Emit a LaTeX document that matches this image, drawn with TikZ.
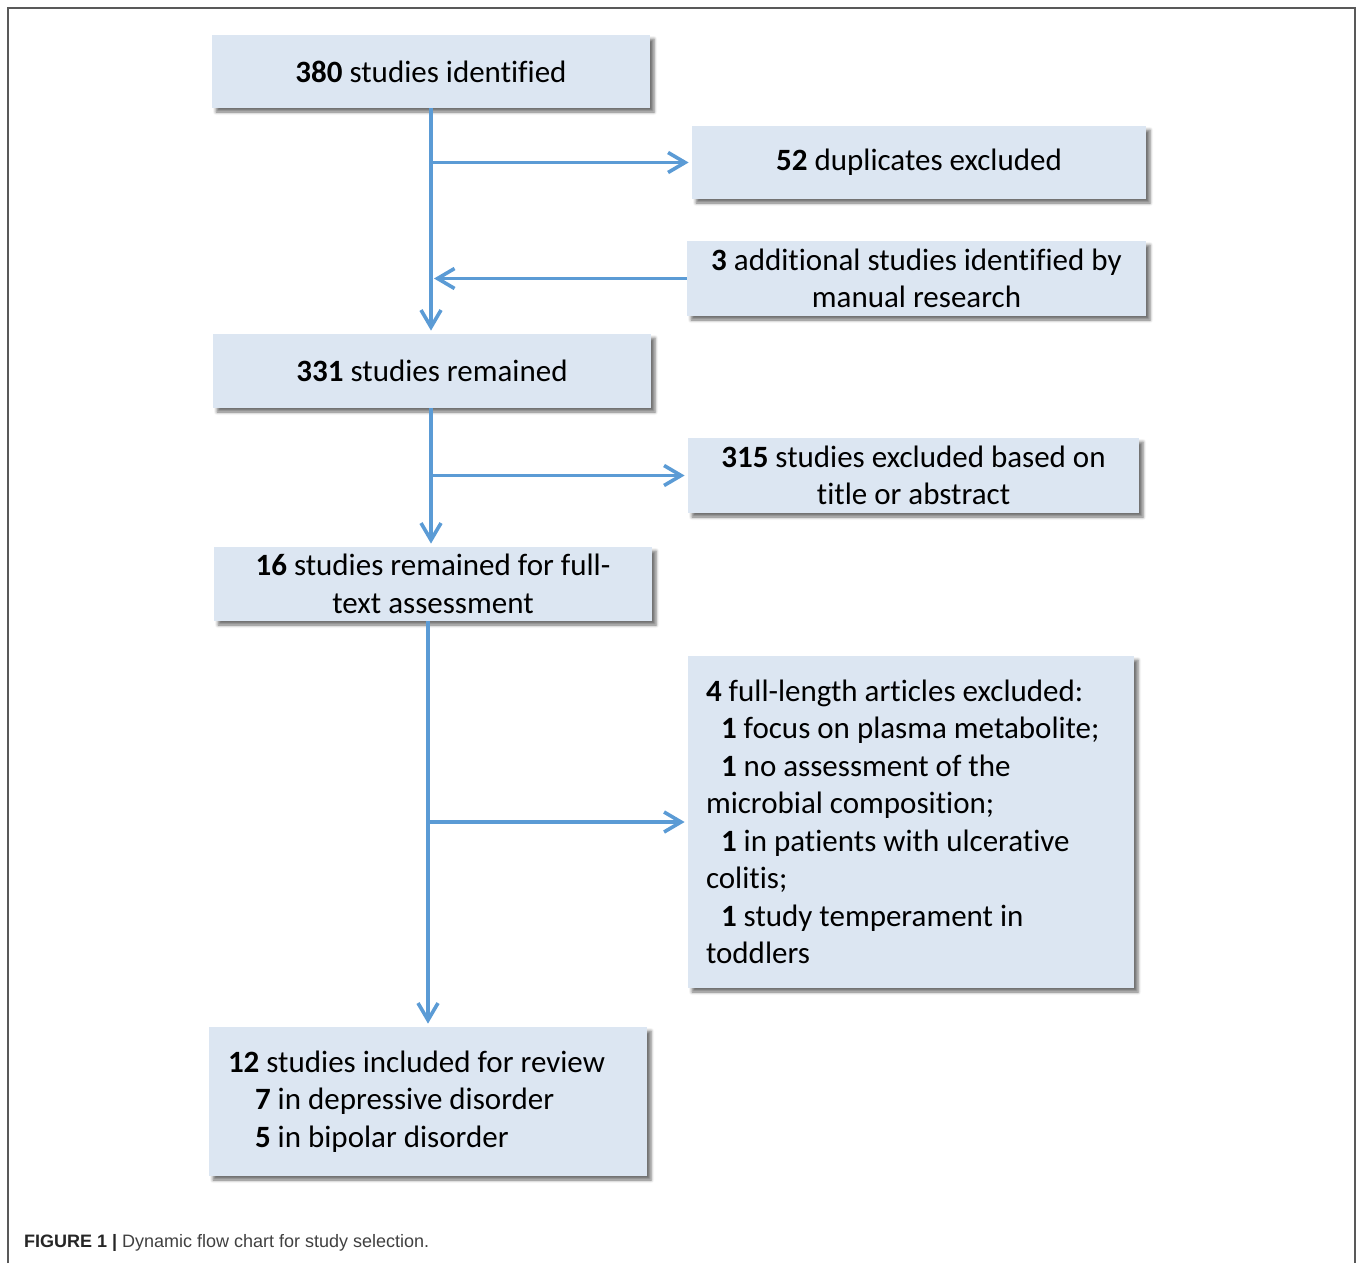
\documentclass[tikz,border=0pt]{standalone}
\usepackage{fontspec}
\setmainfont{Carlito}[Ligatures=NoCommon]
\newfontfamily\capfont{Liberation Sans}
\usetikzlibrary{arrows.meta,shadows.blur}
\definecolor{boxblue}{HTML}{DCE6F2}
\definecolor{arrowblue}{HTML}{5B9BD5}
\tikzset{
  box/.style={fill=boxblue,minimum height=36.5pt,inner sep=9pt,
    font=\fontsize{15.5pt}{18.75pt}\selectfont,
    blur shadow={shadow xshift=2pt,shadow yshift=-2pt,shadow blur radius=1.5pt,shadow opacity=55}},
  twoline/.style={align=center,inner ysep=1pt,minimum height=37.5pt},
  flow/.style={draw=arrowblue,line width=1.8pt,-{Straight Barb[length=8.5pt,width=10pt]},shorten >=1.5pt}
}
\begin{document}
\begin{tikzpicture}[x=0.5pt,y=-0.5pt]
\useasboundingbox (0,0) rectangle (1358,1263);
\draw[gray!70!black,line width=0.8pt] (8,1263) -- (8,8) -- (1355,8) -- (1355,1263);

\node[box,minimum width=219pt](ident) at (431,71.5) {\textbf{380} studies identified};
\node[box,minimum width=227pt](dup) at (919,162.5) {\textbf{52} duplicates excluded};
\node[box,twoline,minimum width=229.5pt](add) at (916.5,278.5) {\textbf{3} additional studies identified by\\manual research};
\node[box,minimum width=219pt,minimum height=37pt](remained) at (432,371) {\textbf{331} studies remained};
\node[box,twoline,minimum width=225.5pt](title) at (913.5,475.5) {\textbf{315} studies excluded based on\\title or abstract};
\node[box,twoline,minimum width=219pt,minimum height=37pt](full) at (433,584) {\textbf{16} studies remained for full-\\text assessment};
\node[box,text width=205pt,minimum height=166pt,align=flush left](four) at (911,822) {\textbf{4} full-length articles excluded:\\
\hspace*{7.5pt}\textbf{1} focus on plasma metabolite;\\
\hspace*{7.5pt}\textbf{1} no assessment of the\\
microbial composition;\\
\hspace*{7.5pt}\textbf{1} in patients with ulcerative\\
colitis;\\
\hspace*{7.5pt}\textbf{1} study temperament in\\
toddlers};
\node[box,inner xsep=9.5pt,text width=200pt,minimum height=74.5pt,align=flush left](incl) at (428,1101.5) {\textbf{12} studies included for review\\
\hspace*{13.5pt}\textbf{7} in depressive disorder\\
\hspace*{13.5pt}\textbf{5} in bipolar disorder};

\draw[flow] (ident.south) -- (ident.south |- remained.north);
\draw[flow] (ident.south |- dup.west) -- (dup.west);
\draw[flow] (add.west) -- (ident.south |- add.west);
\draw[flow] (remained.south -| ident.south) -- (ident.south |- full.north);
\draw[flow] (ident.south |- title.west) -- (title.west);
\draw[flow] (full.south -| incl.north) -- (incl.north);
\draw[flow] (incl.north |- four.west) -- (four.west);

\node[anchor=west,font=\capfont\fontsize{9pt}{11pt}\selectfont,text=black!75](caption) at (17,1243)
  {\textbf{\color{black!85}FIGURE 1 |} Dynamic flow chart for study selection.};
\end{tikzpicture}
\end{document}
